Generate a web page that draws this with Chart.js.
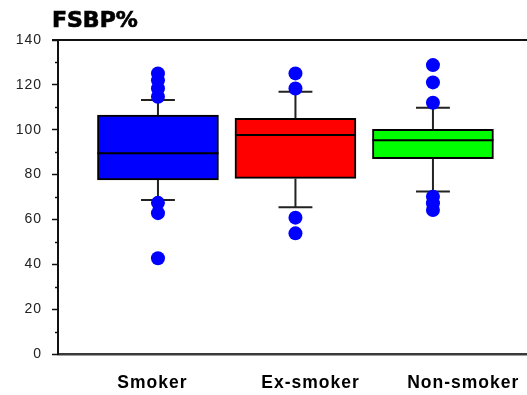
<!DOCTYPE html>
<html>
<head>
<meta charset="utf-8">
<title>FSBP% by smoking status</title>
<script src="https://cdn.jsdelivr.net/npm/chart.js@4.4.1/dist/chart.umd.min.js"></script>
<style>
  html, body { margin: 0; padding: 0; background: #fff; }
  #wrap { position: relative; width: 527px; height: 395px; }
</style>
</head>
<body>
<div id="wrap"><canvas id="chart" width="527" height="395"></canvas></div>
<script>
// Groups and their box-plot summaries (FSBP %)
const categories  = ['Smoker', 'Ex-smoker', 'Non-smoker'];
const groupIndex  = [1, 2, 3];
const q1          = [77.6, 78.3, 87.1];
const medians     = [89.5, 97.6, 95.3];
const q3          = [106.5, 105.1, 100.2];
const whiskerLow  = [68.7, 65.4, 72.4];
const whiskerHigh = [113.2, 116.9, 109.8];
const boxColors   = ['#0000FF', '#FF0000', '#00FF00'];

// Individual outlying observations per group
const outliersSmoker    = [125.1, 122.0, 118.4, 114.7, 67.4, 62.8, 42.7];
const outliersExSmoker  = [125.1, 118.4, 60.8, 53.8];
const outliersNonSmoker = [128.8, 121.1, 112.0, 70.1, 67.2, 64.2];

const yTicks = [0, 20, 40, 60, 80, 100, 120, 140];

const outlierPoints = [outliersSmoker, outliersExSmoker, outliersNonSmoker]
  .flatMap((vals, i) => vals.map(v => ({ x: groupIndex[i], y: v })));

const boxData = groupIndex.map((x, i) => ({ x: x, y: [q1[i], q3[i]] }));

// Where the category names sit along the x axis
const labelAnchors = [0.96, 2.11, 3.22];

// Whiskers, caps and median lines, drawn right after the boxes
const boxExtras = {
  id: 'boxExtras',
  afterDatasetDraw(chart, args) {
    if (args.index !== 1) return;
    const { ctx, scales: { x, y } } = chart;
    const meta = chart.getDatasetMeta(1);
    ctx.save();
    groupIndex.forEach((g, i) => {
      const bar = meta.data[i];
      const cx = x.getPixelForValue(g);
      const half = bar.width / 2;
      const cap = half * 0.28;
      // stems and caps
      ctx.strokeStyle = '#222';
      ctx.lineWidth = 2;
      ctx.beginPath();
      ctx.moveTo(cx, y.getPixelForValue(q3[i]));
      ctx.lineTo(cx, y.getPixelForValue(whiskerHigh[i]));
      ctx.moveTo(cx - cap, y.getPixelForValue(whiskerHigh[i]));
      ctx.lineTo(cx + cap, y.getPixelForValue(whiskerHigh[i]));
      ctx.moveTo(cx, y.getPixelForValue(q1[i]));
      ctx.lineTo(cx, y.getPixelForValue(whiskerLow[i]));
      ctx.moveTo(cx - cap, y.getPixelForValue(whiskerLow[i]));
      ctx.lineTo(cx + cap, y.getPixelForValue(whiskerLow[i]));
      ctx.stroke();
      // median
      ctx.strokeStyle = '#000';
      ctx.beginPath();
      const my = y.getPixelForValue(medians[i]);
      ctx.moveTo(cx - half, my);
      ctx.lineTo(cx + half, my);
      ctx.stroke();
    });
    ctx.restore();
  }
};

// Slightly looser lettering for the axis labels
const spacing = {
  id: 'spacing',
  beforeDraw(chart) { chart.ctx.letterSpacing = '1px'; },
  afterDatasetsDraw(chart) { chart.ctx.letterSpacing = '0px'; }
};

// Frame top edge, minor y ticks and the chart heading
const frame = {
  id: 'frame',
  afterDraw(chart) {
    const { ctx, chartArea: a, scales: { y } } = chart;
    ctx.save();
    ctx.strokeStyle = '#111';
    ctx.lineWidth = 2;
    ctx.beginPath();
    ctx.moveTo(a.left - 6, a.top);
    ctx.lineTo(chart.width, a.top);
    ctx.stroke();
    ctx.lineWidth = 1.5;
    ctx.beginPath();
    for (let v = 10; v < 140; v += 20) {
      const py = Math.round(y.getPixelForValue(v)) + 0.5;
      ctx.moveTo(a.left - 3, py);
      ctx.lineTo(a.left, py);
    }
    ctx.stroke();
    ctx.fillStyle = '#000';
    ctx.strokeStyle = '#000';
    ctx.lineWidth = 0.7;
    ctx.font = 'bold 22px "DejaVu Sans", Arial, sans-serif';
    ctx.textBaseline = 'alphabetic';
    ctx.textAlign = 'left';
    ctx.fillText('FSBP%', 52, 27);
    ctx.strokeText('FSBP%', 52, 27);
    ctx.restore();
  }
};

new Chart(document.getElementById('chart'), {
  type: 'bar',
  data: {
    datasets: [
      {
        type: 'scatter',
        data: outlierPoints,
        backgroundColor: '#0000FF',
        borderWidth: 0,
        pointRadius: 7,
        pointHoverRadius: 7
      },
      {
        type: 'bar',
        data: boxData,
        backgroundColor: boxColors,
        borderColor: '#000',
        borderWidth: 2,
        borderSkipped: false,
        barThickness: 121,
        grouped: false
      }
    ]
  },
  options: {
    responsive: false,
    animation: false,
    devicePixelRatio: 1,
    layout: { autoPadding: false, padding: { top: 40, left: 0, right: 0, bottom: 0 } },
    plugins: {
      legend: { display: false },
      tooltip: { enabled: false },
      title: { display: false }
    },
    scales: {
      x: {
        type: 'linear',
        offset: false,
        min: 0.273,
        max: 3.684,
        afterFit(scale) { scale.height = 41; scale.paddingRight = 0; scale.paddingLeft = 0; },
        afterBuildTicks(scale) {
          scale.ticks = labelAnchors.map(v => ({ value: v }));
        },
        grid: { display: false, drawTicks: false },
        border: { display: true, color: '#3a3a3a', width: 2.5 },
        ticks: {
          autoSkip: false,
          maxRotation: 0,
          padding: 19,
          color: '#000',
          font: { family: '"Liberation Sans", Arial, sans-serif', size: 17.5, weight: 'bold' },
          callback: (v, i) => categories[i]
        }
      },
      y: {
        min: 0,
        max: 140,
        afterFit(scale) { scale.width = 58; },
        afterBuildTicks(scale) {
          scale.ticks = yTicks.map(v => ({ value: v }));
        },
        grid: { drawOnChartArea: false, drawTicks: true, tickLength: 6, tickColor: '#111', tickWidth: 1.5 },
        border: { display: true, color: '#111', width: 2 },
        ticks: {
          padding: 10,
          color: '#222',
          font: { family: '"Liberation Sans", Arial, sans-serif', size: 14 }
        }
      }
    }
  },
  plugins: [spacing, boxExtras, frame]
});
</script>
</body>
</html>
